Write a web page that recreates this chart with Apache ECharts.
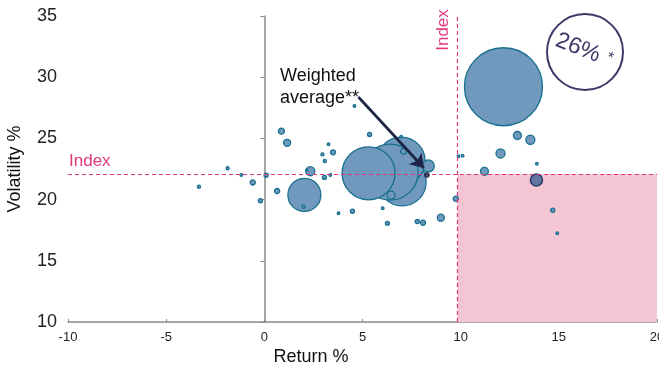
<!DOCTYPE html>
<html>
<head>
<meta charset="utf-8">
<script src="https://cdn.jsdelivr.net/npm/echarts@6/dist/echarts.min.js"></script>
<style>
  html, body { margin: 0; padding: 0; background: #ffffff; }
  #chart { width: 659px; height: 368px; }
</style>
</head>
<body>
<div id="chart"></div>
<script>
// Holdings: annualised return (%), volatility (%) and portfolio weight (%)
const returns = [
  12.18, 7.02, 6.97, 6.41, 5.31, 2.04, 8.35,
  12.89, 13.55, 12.03, 11.21, 13.88, 9.89, 10.10, 9.75, 14.69, 14.92,
  8.99, 8.08, 7.79, 6.27, 6.03, 4.49, 3.78, 2.00, 0.65, -0.20, -0.59,
  0.09, -1.17, -1.87, -3.33, 0.87, 1.16, 2.34, 2.17, 3.06, 3.36, 2.96,
  3.08, 3.27, 3.50, 4.59, 5.36, 6.97, 7.09, 6.46
];
const volatility = [
  29.22, 21.44, 23.15, 22.25, 22.15, 20.38, 22.75,
  25.24, 24.89, 23.77, 22.31, 22.93, 23.54, 23.58, 20.07, 19.13, 17.25,
  18.52, 18.11, 18.21, 18.06, 19.29, 19.05, 18.88, 19.42, 20.70, 19.91, 21.40,
  21.99, 22.01, 22.56, 21.05, 25.59, 24.64, 22.32, 22.42, 21.81, 22.01, 23.70,
  23.15, 24.53, 23.86, 27.65, 25.32, 25.14, 23.95, 20.36
];
const weights = [
  26.0, 9.8, 9.8, 13.4, 12.0, 4.65, 0.62,
  0.27, 0.35, 0.35, 0.27, 0.03, 0.03, 0.03, 0.11, 0.07, 0.03,
  0.21, 0.11, 0.07, 0.07, 0.03, 0.07, 0.03, 0.04, 0.11, 0.07, 0.11,
  0.07, 0.03, 0.04, 0.04, 0.15, 0.21, 0.35, 0.02, 0.07, 0.03, 0.04,
  0.04, 0.03, 0.11, 0.03, 0.07, 0.03, 0.15, 0.27
];

// Highlighted holding
const highlightReturn = [13.86];
const highlightVolatility = [21.60];
const highlightWeight = [0.62];

// Portfolio weighted average and index reference point
const averageReturn = 8.28;
const averageVolatility = 22.01;
const indexReturn = 9.84;
const indexVolatility = 22.1;

// Axis ranges and tick steps
const xMin = -10, xMax = 20, xStep = 5;
const yMin = 10, yMax = 35, yStep = 5;

const FONT = '"Liberation Sans", Arial, Helvetica, sans-serif';
const AXIS_GREY = '#8a8a8a';
const INDEX_PINK = '#e2367e';
const NAVY = '#1d2547';

// Bubble area proportional to weight
const bubbleSize = w => 15.3 * Math.sqrt(w);

const holdings = returns.map((r, i) => [r, volatility[i], weights[i]]);
const highlighted = highlightReturn.map((r, i) => [r, highlightVolatility[i], highlightWeight[i]]);

const chart = echarts.init(document.getElementById('chart'), null, { renderer: 'canvas' });

chart.setOption({
  animation: false,
  backgroundColor: '#ffffff',
  textStyle: { fontFamily: FONT },
  grid: { left: 68, right: 2, top: 16, bottom: 46, containLabel: false, outerBoundsMode: 'none' },
  xAxis: {
    type: 'value',
    min: xMin, max: xMax, interval: xStep,
    axisLine: { onZero: false, lineStyle: { color: AXIS_GREY, width: 1.5 } },
    axisTick: { show: true, inside: true, length: 3, lineStyle: { color: AXIS_GREY, width: 1 } },
    axisLabel: { fontSize: 13, color: '#222', margin: 9, fontFamily: FONT },
    splitLine: { show: false }
  },
  yAxis: [
    {
      type: 'value',
      min: yMin, max: yMax, interval: yStep,
      position: 'left',
      axisLine: { show: false, onZero: false },
      axisTick: { show: false },
      axisLabel: { fontSize: 18, color: '#222', margin: 11, fontFamily: FONT },
      splitLine: { show: false },
      name: 'Volatility %',
      nameLocation: 'middle',
      nameGap: 44,
      nameTextStyle: { fontSize: 18, color: '#111', fontFamily: FONT }
    },
    {
      type: 'value',
      min: yMin, max: yMax, interval: yStep,
      position: 'left',
      axisLine: { show: true, onZero: true, lineStyle: { color: AXIS_GREY, width: 1.5 } },
      axisTick: { show: true, length: 4, lineStyle: { color: AXIS_GREY, width: 1 } },
      axisLabel: { show: false },
      splitLine: { show: false }
    }
  ],
  series: [
    {
      // Region beating the index on return with lower volatility
      type: 'scatter',
      data: [],
      z: 1,
      silent: true,
      markArea: {
        silent: true,
        itemStyle: { color: '#f4c6d4' },
        data: [[
          { xAxis: indexReturn, yAxis: yMin },
          { xAxis: xMax, yAxis: indexVolatility }
        ]]
      }
    },
    {
      name: 'Holdings',
      type: 'scatter',
      z: 2,
      data: holdings,
      symbolSize: v => bubbleSize(v[2]),
      itemStyle: { color: '#7099bd', borderColor: '#17708e', borderWidth: 1.3, opacity: 1 }
    },
    {
      name: 'Highlighted',
      type: 'scatter',
      z: 3,
      data: highlighted,
      symbolSize: v => bubbleSize(v[2]),
      itemStyle: { color: '#6277a0', borderColor: '#2a3a66', borderWidth: 1.5, opacity: 1 }
    },
    {
      // Index reference lines
      type: 'scatter',
      data: [],
      z: 4,
      silent: true,
      markLine: {
        silent: true,
        symbol: 'none',
        label: { show: false },
        lineStyle: { color: INDEX_PINK, type: [4, 3], width: 1.2 },
        data: [
          [{ coord: [indexReturn, yMin] }, { coord: [indexReturn, yMax] }],
          [{ coord: [xMin, indexVolatility] }, { coord: [xMax, indexVolatility] }]
        ]
      }
    },
    {
      // Pointer to the weighted average
      type: 'scatter',
      data: [],
      z: 6,
      silent: true,
      markLine: {
        silent: true,
        symbol: ['none', 'arrow'],
        symbolSize: 13,
        label: { show: false },
        lineStyle: { color: NAVY, type: 'solid', width: 2.7 },
        data: [
          [
            { coord: [4.79, 28.38], symbol: 'none' },
            { coord: [8.13, 22.58], symbol: 'arrow', symbolSize: 13 }
          ]
        ]
      }
    },
    {
      name: 'Weighted average',
      type: 'scatter',
      z: 7,
      data: [[averageReturn, averageVolatility]],
      symbolSize: 5,
      itemStyle: { color: NAVY, borderColor: NAVY, borderWidth: 1 }
    }
  ],
  graphic: [
    {
      type: 'text', x: 311, y: 357,
      style: { text: 'Return %', font: '18px ' + FONT, fill: '#111', align: 'center', verticalAlign: 'middle' }
    },
    {
      type: 'text', x: 69, y: 161,
      style: { text: 'Index', font: '17px ' + FONT, fill: INDEX_PINK, align: 'left', verticalAlign: 'middle' }
    },
    {
      type: 'text', x: 443, y: 30, rotation: Math.PI / 2,
      style: { text: 'Index', font: '17px ' + FONT, fill: INDEX_PINK, align: 'center', verticalAlign: 'middle' }
    },
    {
      type: 'text', x: 280, y: 65,
      style: { text: 'Weighted\naverage**', font: '18px ' + FONT, lineHeight: 22, fill: '#111', align: 'left', verticalAlign: 'top' }
    },
    {
      type: 'circle',
      shape: { cx: 585, cy: 52, r: 38 },
      style: { fill: 'none', stroke: '#3b3a68', lineWidth: 2 }
    },
    {
      type: 'text', x: 578, y: 48, rotation: -0.37,
      style: { text: '26%', font: '23px ' + FONT, fill: '#3b3a68', align: 'center', verticalAlign: 'middle' }
    },
    {
      type: 'text', x: 610, y: 58, rotation: -0.37,
      style: { text: '*', font: '16px ' + FONT, fill: '#3b3a68', align: 'center', verticalAlign: 'middle' }
    }
  ]
});
</script>
</body>
</html>
